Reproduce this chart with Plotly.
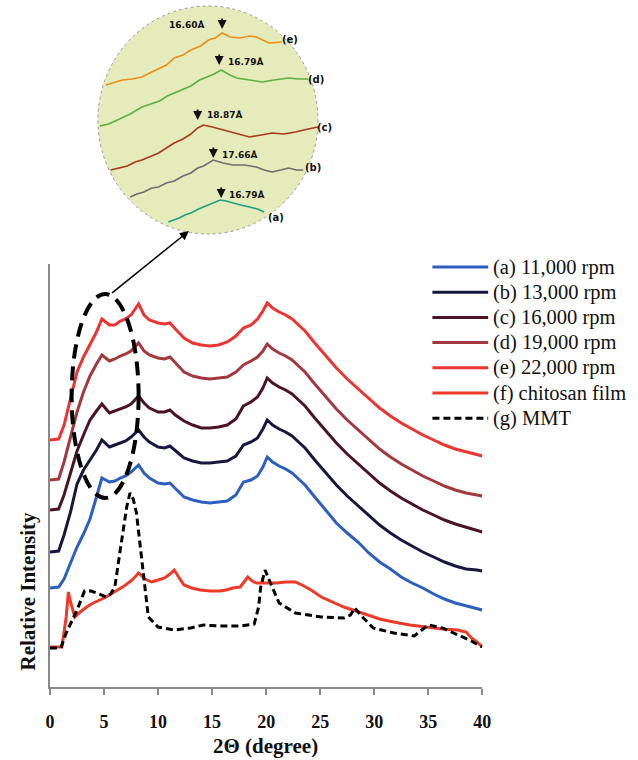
import plotly.graph_objects as go

# ---------------- main chart data (2-theta in degrees, relative intensity in arbitrary units) ----------------
x_grid = [0, 0.8, 1.3, 1.9, 2.5, 3.1, 3.7, 4.3, 4.8, 5.5, 6.0, 6.5, 7.0, 7.5, 8.2, 8.7, 9.2, 10.0, 10.6,
          11.1, 11.6, 12.4, 13.2, 14.0, 14.8, 15.6, 16.4, 17.2, 17.9, 18.6, 19.2, 19.7, 20.1, 20.6, 21.2,
          21.8, 22.4, 23.0, 23.6, 24.5, 25.5, 26.5, 27.5, 28.5, 29.5, 30.5, 31.5, 32.5, 33.5, 34.5, 35.5,
          36.5, 37.5, 38.5, 39.5, 40]

y_a = [99, 100, 108, 124, 140, 153, 168, 190, 209, 205, 206, 209, 211, 215, 222, 214, 209, 204, 203,
       204, 199, 190, 187, 185, 184, 185, 186, 192, 205, 207, 211, 220, 230, 225, 221,
       218, 214, 208, 202, 190, 177, 164, 154, 145, 134, 125, 118, 110, 104, 99, 93,
       88, 84, 81, 78, 77]
y_b = [135, 136, 152, 175, 203, 217, 227, 237, 247, 240, 242, 244, 246, 250, 257, 250, 245, 240, 239,
       241, 236, 229, 226, 224, 224, 225, 226, 231, 242, 245, 249, 258, 267, 262, 258,
       255, 251, 245, 239, 227, 214, 202, 191, 181, 171, 162, 154, 147, 141, 135, 130,
       125, 121, 118, 117, 116]
y_c = [177, 178, 192, 215, 236, 252, 267, 276, 283, 274, 276, 278, 280, 283, 291, 284, 279, 275, 275,
       277, 272, 266, 262, 259, 259, 260, 262, 268, 281, 285, 290, 299, 309, 304, 300,
       297, 293, 287, 281, 269, 256, 244, 233, 223, 213, 204, 196, 189, 183, 177, 172,
       167, 163, 160, 157, 155]
y_d = [207, 208, 225, 250, 275, 295, 311, 323, 332, 326, 328, 331, 333, 336, 344, 336, 332, 329, 328,
       330, 324, 315, 311, 309, 308, 309, 310, 315, 322, 326, 330, 336, 343, 338, 334,
       331, 327, 321, 315, 303, 290, 278, 267, 257, 247, 238, 230, 223, 217, 211, 206,
       201, 197, 194, 192, 191]
y_e = [247, 248, 262, 287, 315, 330, 342, 355, 368, 362, 362, 366, 368, 372, 383, 372, 367, 364, 363,
       364, 358, 349, 344, 342, 341, 342, 345, 351, 359, 362, 368, 376, 384, 379, 375,
       372, 368, 362, 356, 344, 331, 319, 308, 298, 288, 279, 271, 264, 258, 252, 247,
       242, 238, 235, 232, 231]

x_f = [0, 1.1, 1.5, 1.7, 1.9, 2.3, 2.8, 3.4, 4.0, 4.6, 5.2, 5.8, 6.4, 7.0, 7.6, 8.2, 8.8, 9.4, 10.0,
       10.6, 11.1, 11.5, 11.9, 12.4, 13.1, 13.9, 14.8, 15.7, 16.3, 16.9, 17.6, 18.3, 18.7, 19.1, 19.7,
       20.3, 21.0, 21.8, 22.7, 23.5, 24.3, 25.1, 26.1, 27.2, 28.3, 29.3, 30.5, 31.8, 33.3, 34.8, 36.3,
       37.7, 38.5, 39.0, 39.5, 40]
y_f = [40, 40, 70, 95, 85, 70, 75, 80, 84, 87, 90, 94, 98, 102, 107, 114, 108, 105, 107,
       109, 113, 117, 110, 102, 99, 97, 96, 96, 97, 99, 100, 110, 106, 104, 104,
       104, 104, 105, 105, 101, 96, 90, 85, 80, 76, 72, 68, 65, 62, 60, 58,
       57, 55, 49, 45, 40]

x_g = [0, 1.0, 1.5, 2.0, 2.5, 3.2, 3.8, 4.3, 5.2, 5.6, 6.0, 6.5, 7.1, 7.4, 7.7, 8.0, 8.5, 9.1, 10.0,
       11.5, 13.0, 14.2, 15.6, 17.6, 18.9, 19.3, 19.5, 19.9, 20.4, 21.2, 22.7, 25.1, 27.2, 27.8, 28.2,
       28.6, 29.0, 29.9, 31.8, 33.7, 34.4, 35.0, 36.3, 37.7, 38.8, 40]
y_g = [39, 39, 54, 65, 77, 96, 96, 94, 90, 93, 100, 137, 180, 194, 188, 174, 124, 70, 60,
       57, 59, 62, 61, 61, 63, 80, 100, 117, 104, 84, 74, 70, 69, 72, 79,
       74, 69, 59, 54, 51, 57, 62, 59, 52, 47, 40]

series_names = ["(a) 11,000 rpm", "(b) 13,000 rpm", "(c) 16,000 rpm", "(d) 19,000 rpm",
                "(e) 22,000 rpm", "(f) chitosan film", "(g) MMT"]
x_ticks = [0, 5, 10, 15, 20, 25, 30, 35, 40]

# ---------------- inset (zoomed low-angle region), in inset drawing units ----------------
inset_e_x = [103, 112, 120, 130, 140, 148, 155, 165, 173, 182, 190, 200, 208, 215, 222, 230, 240, 250, 257, 265, 270, 283]
inset_e_y = [85, 82, 80, 79, 77, 73, 70, 65, 58, 55, 50, 46, 40, 38, 33, 37, 38, 36, 37, 41, 43, 42]
inset_d_x = [97, 106, 115, 128, 140, 150, 158, 166, 173, 182, 190, 199, 207, 214, 221, 230, 237, 250, 263, 275, 290, 300, 310]
inset_d_y = [126, 124, 120, 114, 107, 104, 101, 96, 93, 89, 86, 80, 77, 74, 70, 75, 78, 80, 82, 80, 78, 79, 79]
inset_c_x = [108, 117, 125, 133, 140, 150, 157, 165, 173, 182, 190, 197, 203, 212, 223, 237, 250, 262, 273, 285, 297, 310, 320]
inset_c_y = [170, 168, 166, 162, 160, 156, 153, 148, 143, 139, 134, 128, 125, 127, 130, 134, 137, 135, 133, 134, 132, 129, 127]
inset_b_x = [128, 135, 142, 150, 157, 165, 173, 182, 190, 197, 203, 213, 223, 233, 245, 257, 265, 273, 282, 290, 298, 305]
inset_b_y = [197, 194, 192, 188, 187, 183, 181, 176, 173, 168, 166, 160, 163, 165, 165, 167, 170, 172, 170, 168, 170, 170]
inset_a_x = [167, 173, 178, 184, 190, 198, 207, 214, 220, 226, 233, 241, 250, 258, 265]
inset_a_y = [222, 220, 218, 215, 213, 209, 205, 202, 200, 201, 203, 205, 207, 209, 212]
inset_labels = ["(e)", "(d)", "(c)", "(b)", "(a)"]
inset_spacings = ["16.60Å", "16.79Å", "18.87Å", "17.66Å", "16.79Å"]

# ---------------- styles ----------------
main_colors = ["#2D5FC0", "#17173F", "#4A1424", "#A3383E", "#EE3333", "#EE3A28", "#000000"]
inset_colors = ["#E8901E", "#5DB040", "#A6381E", "#6E6E6E", "#1FA07A"]
W, H = 638, 760
SERIF = "Liberation Serif, Times New Roman, serif"
SANS = "DejaVu Sans, Arial, sans-serif"
MMT_DASH = "7px,4px"

fig = go.Figure()

main_series = [(x_grid, y_a), (x_grid, y_b), (x_grid, y_c), (x_grid, y_d), (x_grid, y_e),
               (x_f, y_f), (x_g, y_g)]
for i, (xs, ys) in enumerate(main_series):
    fig.add_trace(go.Scatter(
        x=xs, y=ys, mode="lines", name=series_names[i], showlegend=False,
        line=dict(color=main_colors[i], width=3, dash=MMT_DASH if i == 6 else "solid"),
        xaxis="x", yaxis="y"))

inset_series = [(inset_e_x, inset_e_y), (inset_d_x, inset_d_y), (inset_c_x, inset_c_y),
                (inset_b_x, inset_b_y), (inset_a_x, inset_a_y)]
for i, (xs, ys) in enumerate(inset_series):
    fig.add_trace(go.Scatter(
        x=xs, y=ys, mode="lines", showlegend=False, line=dict(color=inset_colors[i], width=1.6),
        xaxis="x2", yaxis="y2"))

shapes = []
annotations = []

# inset circle
shapes.append(dict(type="circle", xref="x2", yref="y2", x0=95, x1=320, y0=6, y1=234,
                   fillcolor="#E5EBBA", line=dict(color="#9A9A9A", width=1, dash="dot"), layer="below"))
# dashed ellipse on main chart
shapes.append(dict(type="circle", xref="x", yref="y", x0=2.0, x1=8.2, y0=189, y1=393,
                   line=dict(color="black", width=4, dash="14px,8px")))
# arrow from ellipse to inset
annotations.append(dict(xref="x2", yref="y2", axref="x2", ayref="y2", x=188, y=231, ax=108, ay=294,
                        showarrow=True, arrowhead=2, arrowsize=1.2, arrowwidth=1.5, arrowcolor="black", text=""))

# inset labels and d-spacing arrows
label_pos = [(291, 39), (318, 79), (327, 127), (315, 167), (277, 217)]
arrow_pos = [(222, 29), (219, 65), (197, 120), (213, 158), (221, 198)]
spacing_pos = [(186, 25), (246, 62), (224, 115), (240, 155), (247, 195)]
for i in range(5):
    annotations.append(dict(xref="x2", yref="y2", x=label_pos[i][0], y=label_pos[i][1], text="<b>%s</b>" % inset_labels[i],
                            showarrow=False, font=dict(family=SANS, size=10, color="#111")))
    annotations.append(dict(xref="x2", yref="y2", x=arrow_pos[i][0], y=arrow_pos[i][1], text="",
                            showarrow=True, ax=0, ay=-12, arrowhead=2, arrowsize=1, arrowwidth=1.8, arrowcolor="#111"))
    annotations.append(dict(xref="x2", yref="y2", x=spacing_pos[i][0], y=spacing_pos[i][1],
                            text="<b>%s</b>" % inset_spacings[i], showarrow=False,
                            font=dict(family=SANS, size=9, color="#111")))

# custom legend
leg_y0, leg_dy = 267, 25.2
for i, name in enumerate(series_names):
    yy = leg_y0 + i * leg_dy
    shapes.append(dict(type="line", xref="x2", yref="y2", x0=437, x1=494, y0=yy, y1=yy,
                       line=dict(color=main_colors[i], width=3, dash=MMT_DASH if i == 6 else "solid")))
    annotations.append(dict(xref="x2", yref="y2", x=497, y=yy, text=name, xanchor="left", yanchor="middle",
                            showarrow=False, font=dict(family=SERIF, size=20.5, color="#111")))

# axis titles
annotations.append(dict(xref="x2", yref="y2", x=266, y=746, text="<b>2Θ (degree)</b>", showarrow=False,
                        font=dict(family=SERIF, size=21, color="#111")))
annotations.append(dict(xref="x2", yref="y2", x=23, y=591, text="<b>Relative Intensity</b>", showarrow=False,
                        textangle=-90, font=dict(family=SERIF, size=21, color="#111")))

fig.update_layout(
    width=W, height=H, margin=dict(l=0, r=0, t=0, b=0),
    paper_bgcolor="white", plot_bgcolor="rgba(0,0,0,0)",
    showlegend=False,
    xaxis=dict(domain=[46 / W, 488 / W], range=[0, 40], tickvals=x_ticks, ticks="outside", ticklen=6,
               tickcolor="#8A8A8A", tickwidth=1.5, showline=True, linecolor="#8A8A8A", linewidth=1.5,
               showgrid=False, zeroline=False, ticklabelstandoff=12,
               tickfont=dict(family=SERIF, size=18, color="#111", weight="bold"), anchor="y"),
    yaxis=dict(domain=[(H - 687) / H, (H - 264) / H], range=[0, 423], showticklabels=False, ticks="",
               showline=True, linecolor="#8A8A8A", linewidth=1.5, showgrid=False, zeroline=False, anchor="x"),
    xaxis2=dict(domain=[0, 1], range=[0, W], visible=False, anchor="y2", fixedrange=True),
    yaxis2=dict(domain=[0, 1], range=[H, 0], visible=False, anchor="x2", fixedrange=True),
    shapes=shapes, annotations=annotations,
)

fig.write_html("out.html")
